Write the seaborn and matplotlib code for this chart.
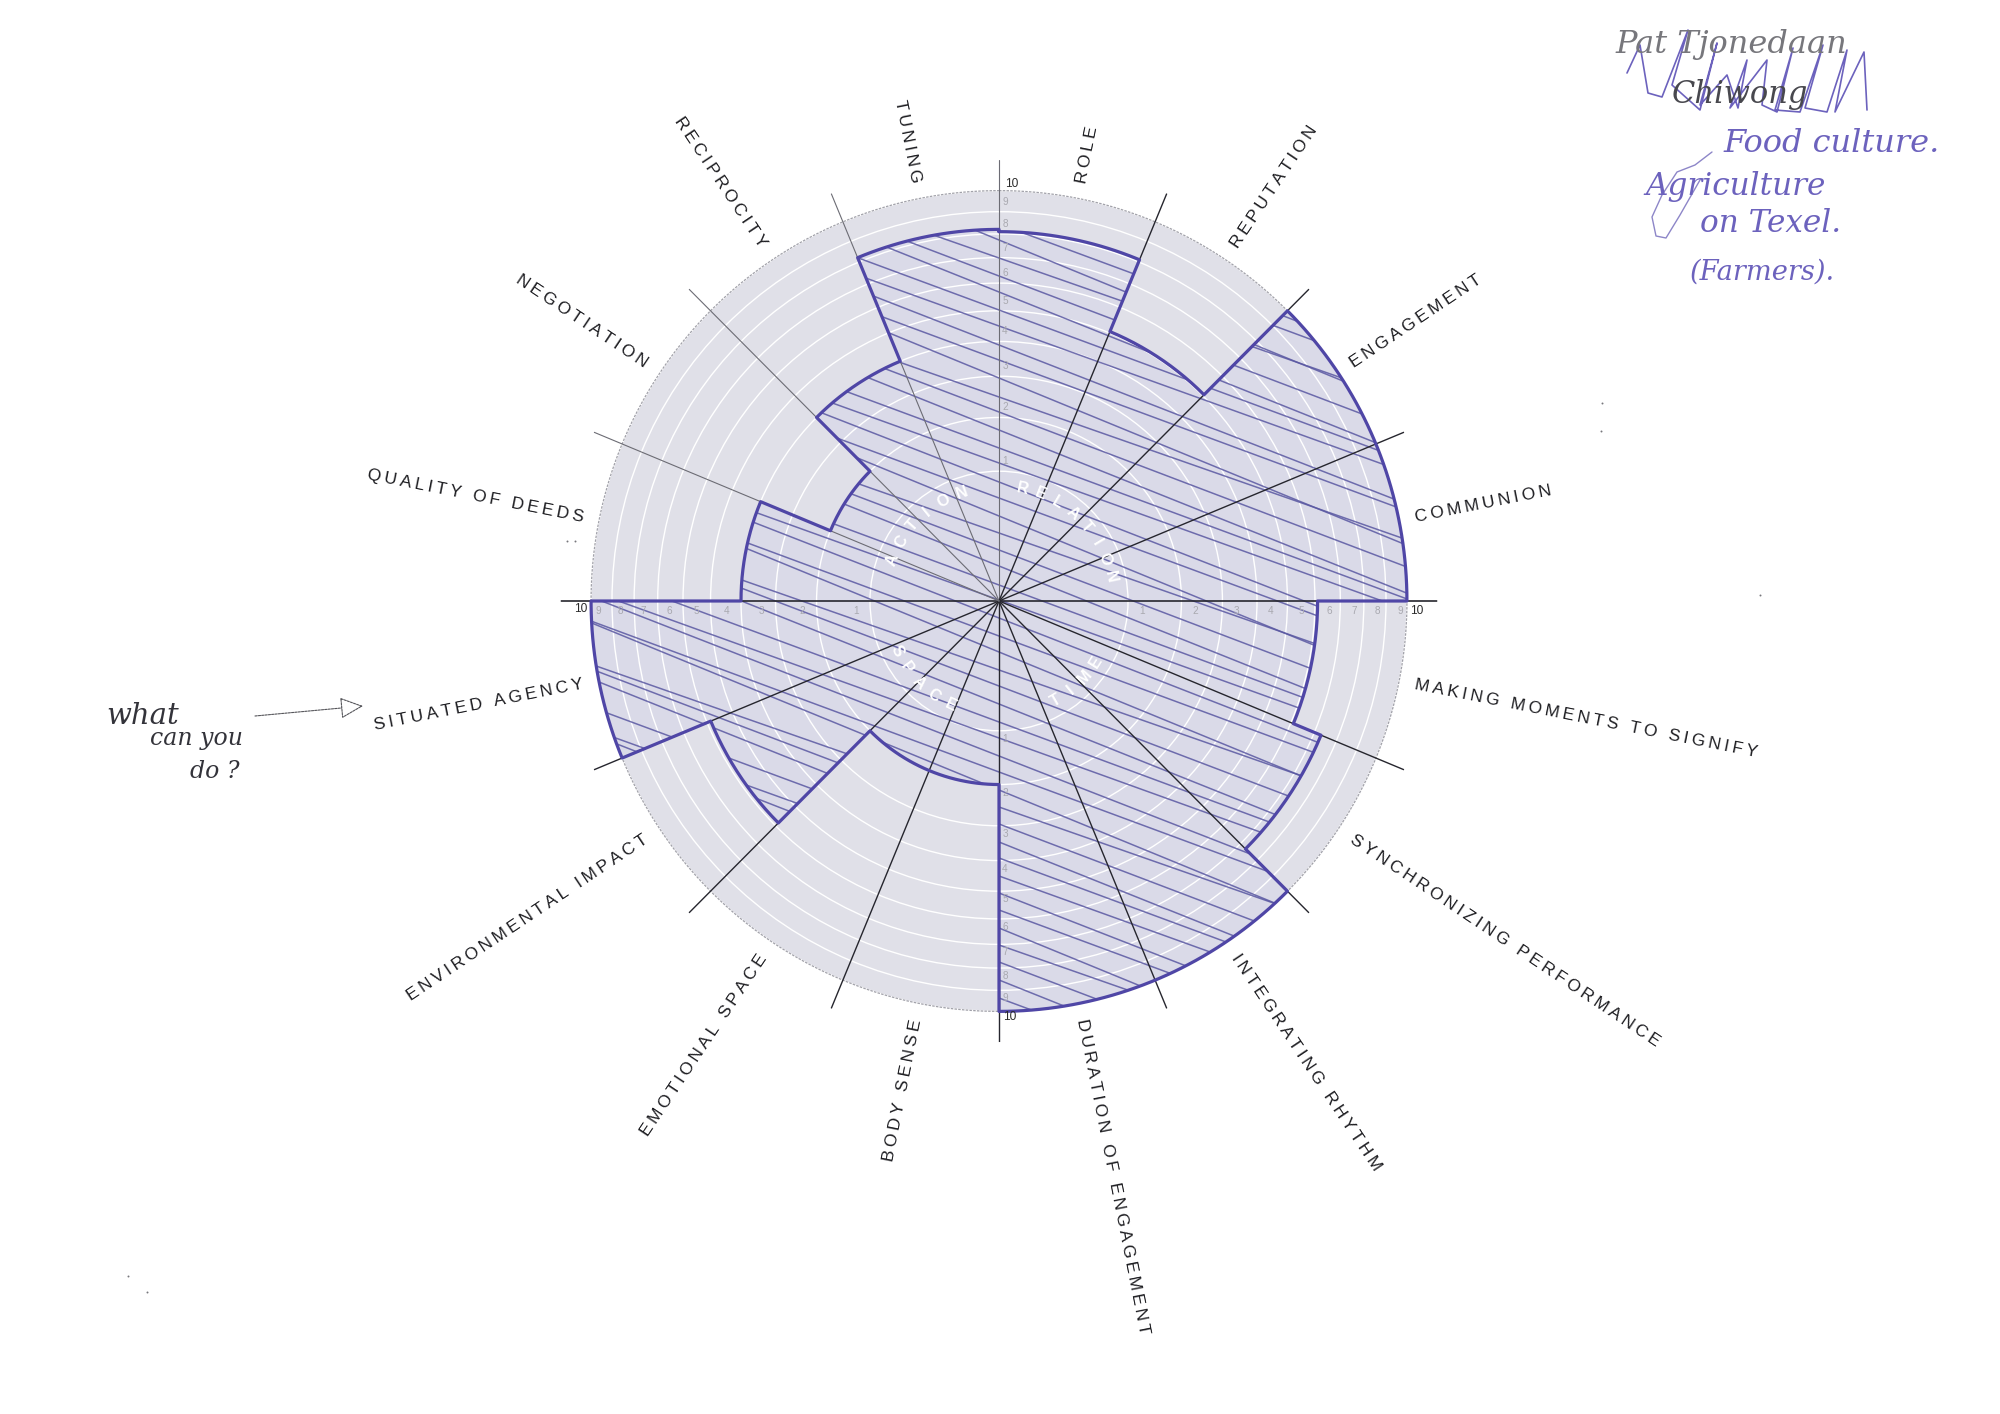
import numpy as np
import pandas as pd
import matplotlib
matplotlib.use("Agg")
import matplotlib.pyplot as plt
import seaborn as sns

# ---------- data ----------
SECTOR_LABELS = ["ROLE", "REPUTATION", "ENGAGEMENT", "COMMUNION",
                 "MAKING MOMENTS TO SIGNIFY", "SYNCHRONIZING PERFORMANCE",
                 "INTEGRATING RHYTHM", "DURATION OF ENGAGEMENT",
                 "BODY SENSE", "EMOTIONAL SPACE", "ENVIRONMENTAL IMPACT",
                 "SITUATED AGENCY", "QUALITY OF DEEDS", "NEGOTIATION",
                 "RECIPROCITY", "TUNING"]
SECTOR_VALUES = [8.1, 5.05, 10, 10, 6.1, 7.3, 10, 10, 2, 2, 5.85, 10, 4, 2, 4, 8.2]
RINGS = [1, 2, 3, 4, 5, 6, 7, 8, 9, 10]
# (word, first-letter angle, last-letter angle, bottom half?)
INNER_WORDS = [("RELATION", 12, 78, False), ("ACTION", 291, 341, False),
               ("SPACE", 244, 205, True), ("TIME", 150, 122, True)]

# hand-drawn hatching: y position at the chart's centre column and slope
HATCH_Y0 = [190, 205, 224, 240, 258, 276, 292, 310, 326, 345, 360, 378, 397, 412,
            430, 448, 463, 482, 498, 516, 533, 550, 566, 585, 600, 618, 636, 652,
            670, 686, 704, 722, 738, 756, 772, 790, 807, 824, 842, 858, 876, 893,
            910, 928, 945, 962, 980, 998, 1012]
HATCH_SLOPE = [0.36, 0.39, 0.37, 0.41, 0.35, 0.38, 0.40, 0.37]

SCRIBBLE_X = [1627, 1640, 1648, 1662, 1688, 1672, 1700, 1717, 1700, 1727, 1738, 1747, 1730,
              1767, 1762, 1777, 1793, 1775, 1800, 1823, 1805, 1827, 1847, 1835, 1864, 1867]
SCRIBBLE_Y = [73, 45, 93, 97, 30, 85, 110, 43, 105, 75, 108, 60, 108, 60, 105, 112, 48, 110,
              112, 45, 108, 112, 50, 112, 52, 110]
G_TAIL_X = [1712, 1695, 1677, 1662, 1652, 1656, 1666, 1680, 1700]
G_TAIL_Y = [152, 165, 172, 195, 217, 236, 238, 215, 180]
SPECKS_X = [1601, 1602, 567, 575, 1760, 128, 147]
SPECKS_Y = [431, 403, 541, 541, 595, 1276, 1292]

# ---------- layout ----------
W, H, DPI = 2000, 1414, 200
CX, CY, UNIT = 999, 601, 129      # centre and radius of ring 1, in pixels
RMAX = 11.55
half = UNIT * np.sqrt(RMAX)
half_y = half * 1.006

sns.set_theme(style="white")
SANS = ["Liberation Sans", "DejaVu Sans"]
plt.rcParams["font.family"] = SANS

fig = plt.figure(figsize=(W / DPI, H / DPI), dpi=DPI, facecolor="white")
ax = fig.add_axes([(CX - half) / W, 1 - (CY + half_y) / H, 2 * half / W, 2 * half_y / H],
                  projection="polar")
ax.set_aspect("auto")
ov = fig.add_axes([0, 0, 1, 1], zorder=5)
ov.set_xlim(0, W); ov.set_ylim(H, 0); ov.axis("off"); ov.patch.set_alpha(0)

ax.set_theta_zero_location("N")
ax.set_theta_direction(-1)
ax.set_rscale("function", functions=(lambda v: np.sqrt(np.clip(v, 0, None)), np.square))
ax.patch.set_alpha(0)
ax.spines["polar"].set_visible(False)

n = len(SECTOR_VALUES)
step = 2 * np.pi / n
circle = np.linspace(0, 2 * np.pi, 361)

# disc and rings
ax.fill_between(circle, 0, 10, color="#e0e0e8", lw=0, zorder=1)
ax.set_xticks([])
ax.set_rticks(RINGS)
ax.set_yticklabels([])
ax.set_axisbelow("line")
ax.grid(True, axis="y", color="white", lw=0.5)
ax.plot(circle, np.full_like(circle, 10), color="#a2a2aa", lw=0.45, ls=(0, (2, 1)), zorder=2)

# profile outline
th, rr = [], []
for i, v in enumerate(SECTOR_VALUES):
    t = np.linspace(i * step, (i + 1) * step, 40)
    th.extend(t)
    rr.extend([v] * len(t))
th.append(th[0]); rr.append(rr[0])
outline = pd.DataFrame({"theta": th, "r": rr})
region = ax.fill(outline["theta"], outline["r"], color="#c9c8ea", alpha=0.22, lw=0, zorder=1.2)[0]

# hatching clipped to the profile
xs = np.array([CX - 460, CX + 460])
for k, y0 in enumerate(HATCH_Y0):
    s = HATCH_SLOPE[k % len(HATCH_SLOPE)]
    line, = ax.plot(xs, y0 + s * (xs - CX), transform=ov.transData, color="#5a58a2",
                    lw=0.55, alpha=0.85, zorder=2.2)
    line.set_clip_path(region)

# spokes
spoke_angles = [i * step for i in range(n)]
spokes = pd.DataFrame({
    "theta": np.repeat(spoke_angles, 2),
    "r": [0, RMAX] * n,
    "spoke": np.repeat(range(n), 2),
})
light = {0, 14, 15, 13}
for idx, grp in spokes.groupby("spoke"):
    sns.lineplot(data=grp, x="theta", y="r", sort=False, estimator=None, ax=ax,
                 color="#6c6c74" if idx in light else "#26262e",
                 lw=0.4 if idx in light else (0.6 if idx in (4, 12) else 0.5),
                 zorder=3, legend=False)

sns.lineplot(data=outline, x="theta", y="r", sort=False, estimator=None, ax=ax,
             color="#4f46a6", lw=1.15, zorder=4, legend=False)
ax.set_xlabel(""); ax.set_ylabel("")
ax.set_ylim(0, RMAX)
ax.set_xticks([]); ax.set_yticklabels([])

# sector labels, letter-spaced and radiating from the disc
SEP = "\u2009"
for i, lab in enumerate(SECTOR_LABELS):
    deg = (i + 0.5) * 360 / n
    right = deg < 180
    ax.text(np.deg2rad(deg), 10.8, SEP.join(lab), fontsize=6.25, color="#1e1e22",
            family=SANS, ha="left" if right else "right", va="center",
            rotation=(90 - deg) if right else (270 - deg), rotation_mode="anchor", zorder=6)

# scale numerals on the four axes
offsets = {0: (6, 0), 90: (5, -10), 180: (6, 0), 270: (-5, -10)}
for deg, (dx, dy) in offsets.items():
    for v in RINGS:
        is_ten = v == 10
        if is_ten:
            place = {0: (13, 7), 90: (10, -10), 180: (11, -6), 270: (-10, -8)}[deg]
        else:
            place = (dx, dy + (10 if deg == 0 else (-8 if deg == 180 else 0))) if deg in (0, 180) \
                else (dx + (9 if deg == 90 else -9), dy)
        ax.annotate(str(v), xy=(np.deg2rad(deg), v), xytext=place, textcoords="offset pixels",
                    fontsize=4.3 if is_ten else 3.6, color="#2a2a2a" if is_ten else "#a9a9b0",
                    ha="center", va="center", zorder=6)

# curved words inside ring 1
for word, a0, a1, bottom in INNER_WORDS:
    for ch, a in zip(word, np.linspace(a0, a1, len(word))):
        ax.text(np.deg2rad(a), (114 / UNIT) ** 2, ch, color="white", fontsize=5.8,
                fontweight="bold", ha="center", va="center",
                rotation=(180 - a) if bottom else -a, rotation_mode="anchor", zorder=3.5)

# handwriting
INK = "#6c62bd"
ov.plot(SCRIBBLE_X, SCRIBBLE_Y, color=INK, lw=0.6)
ov.plot(G_TAIL_X, G_TAIL_Y, color="#8d86c8", lw=0.5)
ink_font = dict(family="DejaVu Serif", style="italic", color=INK, va="center", ha="left")
ov.text(1615, 45, "Pat Tjonedaan", family="DejaVu Serif", style="italic", color="#77777c",
        fontsize=11.5, va="center", ha="left")
ov.text(1672, 94, "Chiwong", family="DejaVu Serif", style="italic", color="#48484e",
        fontsize=11, va="center", ha="left")
ov.text(1723, 143, "Food culture.", fontsize=11.5, **ink_font)
ov.text(1645, 187, "Agriculture", fontsize=11.2, **ink_font)
ov.text(1700, 224, "on Texel.", fontsize=11.2, **ink_font)
ov.text(1690, 272, "(Farmers).", fontsize=9.8, **ink_font)

hand = dict(family="DejaVu Serif", style="italic", color="#33333a", va="center", ha="left")
ov.text(106, 716, "what", fontsize=10.5, **hand)
ov.text(150, 738, "can you", fontsize=8.5, **hand)
ov.text(190, 772, "do ?", fontsize=8.5, **hand)
ov.annotate("", xy=(363, 706), xytext=(255, 716),
            arrowprops=dict(arrowstyle="-|>,head_length=0.6,head_width=0.28", edgecolor="#55555a",
                            facecolor="white", lw=0.4, ls=(0, (2, 1)), shrinkA=0, shrinkB=0))
ov.scatter(SPECKS_X, SPECKS_Y, s=0.5, color="#77777c", lw=0)

fig.savefig("out.png", dpi=DPI, facecolor="white")
